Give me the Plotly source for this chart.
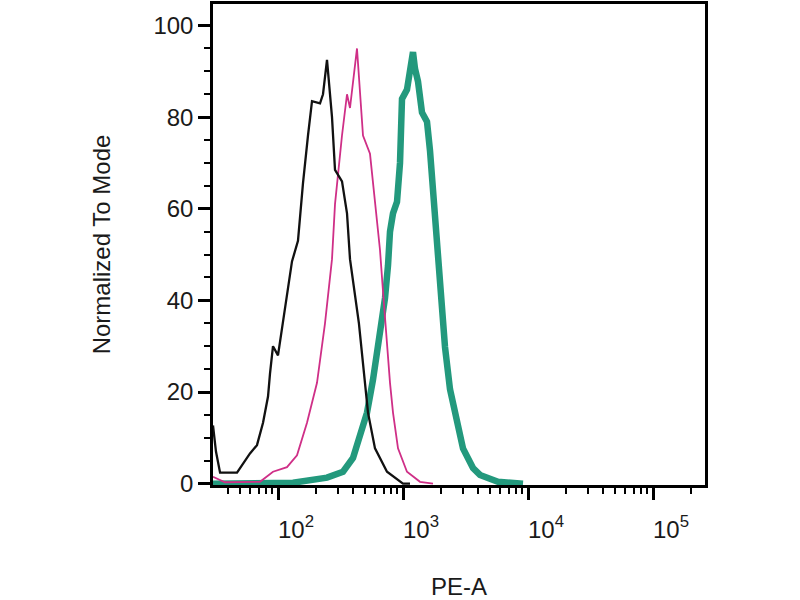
import plotly.graph_objects as go

# -----------------------------------------------------------------------------
# Data (read off the reference histogram overlay, PE-A intensity vs % of mode)
# -----------------------------------------------------------------------------
black_x = [30.2, 31.9, 34.4, 47.0, 59.7, 67.9, 75.9, 83.2, 86.3, 91.2, 100, 107.6,
           118, 129.4, 144.5, 158.5, 173.8, 187.1, 216.8, 229.1, 246.6, 270.4,
           285.8, 325.1, 356.5, 376.7, 444.0, 496.6, 524.8, 597.0, 744.7, 1000, 1138]
black_y = [12.7, 7.0, 2.4, 2.4, 6.6, 8.4, 13.3, 19, 24, 30, 28, 34,
           40.5, 48.5, 53, 65.6, 76, 83.5, 83, 85, 92.5, 80,
           68.5, 66, 59, 49, 35, 22.7, 15.5, 7.7, 2.6, 0, 0]

pink_x = [30.2, 37.7, 71.8, 91.2, 118, 141.9, 170.6, 205.1, 237.7, 270.4, 285.8,
          325.1, 356.5, 376.7, 428.5, 478.6, 544.5, 597.0, 654.6, 691.8, 744.7,
          787.0, 831.8, 912.0, 1076, 1368, 1738]
pink_y = [1.5, 0.3, 0.4, 2.6, 3.6, 6.2, 13.3, 22, 35, 49, 61,
          76, 85, 82, 95, 76, 72, 62, 51, 42, 30,
          22, 15.5, 7.7, 2.6, 0.4, 0]

green_x = [30.2, 131.8, 246.6, 331.1, 398.1, 452.9, 515.2, 575.4, 654.6, 717.8,
           758.6, 787.0, 831.8, 895.4, 946.2, 981.7, 1076, 1138, 1202, 1247, 1318,
           1419, 1556, 1644, 1803, 1871, 1977, 2168, 2377, 2704, 3020, 3631, 4130,
           5754, 9120]
green_y = [0.0, 0.2, 1.3, 2.6, 5.6, 10.5, 15.5, 22.7, 32, 40.5,
           47.6, 55, 59, 61.5, 70, 84, 86, 91.4, 94.2, 90.6, 87.8,
           81, 79, 72.7, 59, 51.3, 43, 29.8, 20.6, 13.3, 7.7, 3.4, 1.9,
           0.4, 0]

x_tickvals = [1e2, 1e3, 1e4, 1e5]
x_ticktext = ["10<sup>2</sup>", "10<sup>3</sup>", "10<sup>4</sup>", "10<sup>5</sup>"]
y_tickvals = [0, 20, 40, 60, 80, 100]

# -----------------------------------------------------------------------------
# Figure
# -----------------------------------------------------------------------------
fig = go.Figure()
fig.add_trace(go.Scatter(x=green_x, y=green_y, mode="lines",
                         line=dict(color="#23997d", width=6.5), showlegend=False))
fig.add_trace(go.Scatter(x=pink_x, y=pink_y, mode="lines",
                         line=dict(color="#cf2f87", width=1.8), showlegend=False))
fig.add_trace(go.Scatter(x=black_x, y=black_y, mode="lines",
                         line=dict(color="#111111", width=2.3), showlegend=False))

font_main = "Arial, Liberation Sans, sans-serif"

fig.update_xaxes(
    type="log", range=[1.48, 5.416],
    showline=True, linecolor="black", linewidth=2.5, mirror=True,
    showgrid=False, zeroline=False,
    tickvals=x_tickvals, ticktext=x_ticktext,
    ticklabelshift=18, ticklabelstandoff=9,
    ticks="outside", ticklen=12, tickwidth=2.5, tickcolor="black",
    minor=dict(ticks="outside", ticklen=6, tickwidth=1.5, tickcolor="black",
               dtick="D1", showgrid=False),
    tickfont=dict(family=font_main, size=24, color="#1a1a1a"),
    title=dict(text="PE-A", font=dict(family=font_main, size=24, color="#1a1a1a"),
               standoff=40),
)
fig.update_yaxes(
    range=[-0.3, 104.7],
    showline=True, linecolor="black", linewidth=2.5, mirror=True,
    showgrid=False, zeroline=False,
    tickvals=y_tickvals,
    ticks="outside", ticklen=12, tickwidth=2.5, tickcolor="black",
    minor=dict(ticks="outside", ticklen=6, tickwidth=1.5, tickcolor="black",
               dtick=5, showgrid=False),
    tickfont=dict(family=font_main, size=24, color="#1a1a1a"),
    title=dict(text="Normalized To Mode",
               font=dict(family=font_main, size=24, color="#1a1a1a"),
               standoff=37),
)

fig.update_layout(
    width=800, height=600,
    margin=dict(l=213, r=95, t=1, b=111),
    plot_bgcolor="white", paper_bgcolor="white",
)

# drop the browser's default body margin so the 800x600 figure sits at (0, 0)
fig.write_html("out.html", config={"displayModeBar": False},
               post_script="document.body.style.margin='0px';")
